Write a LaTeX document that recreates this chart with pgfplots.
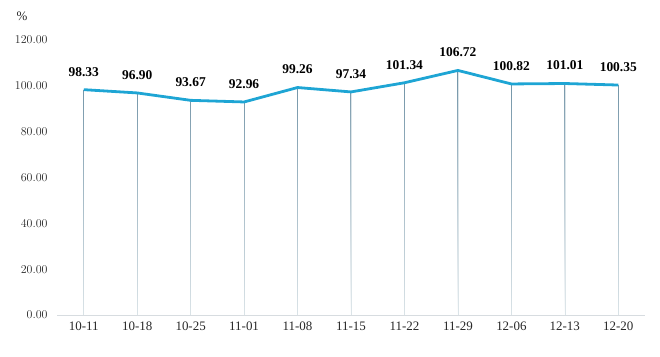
\documentclass[border=0pt]{standalone}
\usepackage{pgfplots}
\pgfplotsset{compat=1.18}
\usepackage{fontspec}
\setmainfont{Liberation Serif}
\usetikzlibrary{fadings}
\definecolor{lineblue}{RGB}{30,165,212}
\definecolor{dropc}{RGB}{110,145,165}
\definecolor{axgray}{RGB}{215,220,224}
\definecolor{txt}{RGB}{40,40,40}
\begin{document}
\begin{tikzpicture}
\begin{axis}[
  name=ax,
  scale only axis,
  width=588bp, height=275bp,
  xmin=-0.5, xmax=10.5,
  ymin=0, ymax=120,
  axis y line=none,
  axis x line*=bottom,
  x axis line style={draw=axgray, line width=0.8bp},
  xtick={0,...,10},
  xticklabels={10-11,10-18,10-25,11-01,11-08,11-15,11-22,11-29,12-06,12-13,12-20},
  xtick style={draw=none},
  xticklabel style={font=\fontsize{13}{15}\selectfont, text=txt, yshift=-3bp},
  clip=false,
]
\pgfplotsinvokeforeach{0,20,40,60,80,100,120}{
  \node[anchor=east, font=\fontsize{13}{15}\selectfont, text=txt] at (axis cs:-0.5,#1) [xshift=-6bp] {\pgfmathprintnumber[fixed,fixed zerofill,precision=2]{#1}};
}
\node[font=\fontsize{13}{15}\selectfont, text=txt] at (axis cs:-0.5,120) [xshift=-35bp, yshift=24bp] {\%};
\addplot[ycomb, draw=dropc!25, line width=0.6bp, mark=none] coordinates {
 (0,98.33) (1,96.90) (2,93.67) (3,92.96) (4,99.26) (5,97.34) (6,101.34) (7,106.72) (8,100.82) (9,101.01) (10,100.35)};
\addplot[ycomb, draw=dropc, line width=0.7bp, mark=none, path fading=south] coordinates {
 (0,98.33) (1,96.90) (2,93.67) (3,92.96) (4,99.26) (5,97.34) (6,101.34) (7,106.72) (8,100.82) (9,101.01) (10,100.35)};
\addplot[draw=lineblue, line width=2.8bp, mark=none,
  nodes near coords, point meta=explicit symbolic,
  nodes near coords style={font=\bfseries\fontsize{13.5}{15}\selectfont, text=black, anchor=south, inner sep=0pt, yshift=12bp}]
 coordinates {
 (0,98.33) [98.33] (1,96.90) [96.90] (2,93.67) [93.67] (3,92.96) [92.96] (4,99.26) [99.26] (5,97.34) [97.34] (6,101.34) [101.34] (7,106.72) [106.72] (8,100.82) [100.82] (9,101.01) [101.01] (10,100.35) [100.35]};
\end{axis}
\pgfresetboundingbox
\path[use as bounding box] ([shift={(-57bp,-42bp)}]ax.south west) rectangle ([shift={(15bp,40bp)}]ax.north east);
\end{tikzpicture}
\end{document}
